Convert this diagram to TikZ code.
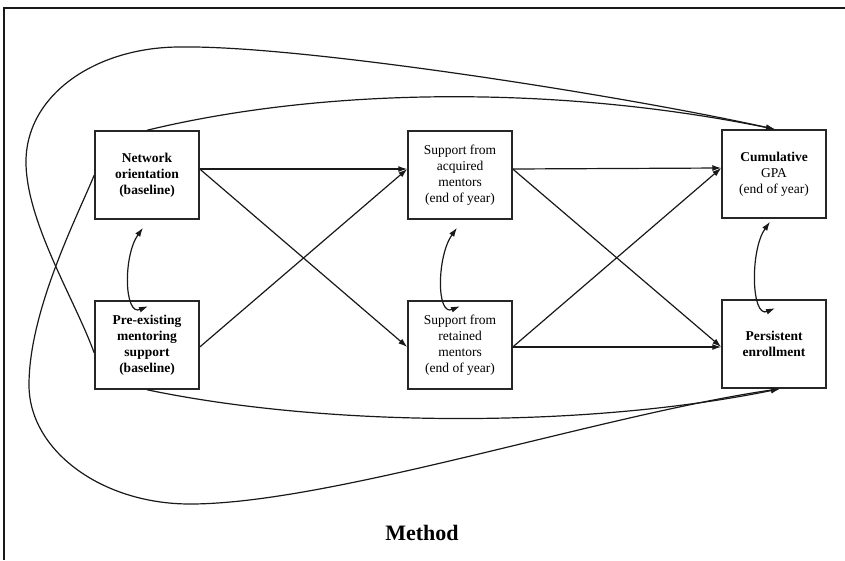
\documentclass[tikz,border=0pt]{standalone}
\usepackage{fontspec}
\setmainfont{Liberation Serif}
\usetikzlibrary{arrows.meta,calc}
\begin{document}
\begin{tikzpicture}[x=1pt,y=1pt,
  box/.style={draw=black!85, line width=1.5pt, minimum width=104pt, minimum height=88pt,
    inner sep=0pt, align=center, font=\fontsize{13.5}{16}\selectfont},
  conn/.style={draw=black!90, line width=1.2pt, -{Latex[length=9pt,width=6pt]}},
  dbl/.style={draw=black!90, line width=1.2pt, {Latex[length=9pt,width=6pt]}-{Latex[length=9pt,width=6pt]}}]
\useasboundingbox (0,0) rectangle (845,-560);
\draw[line width=2.6pt, black!90] (845,-8) -- (4,-8) -- (4,-560);

\node[box] (NO)  at (147,-175) {\textbf{Network}\\\textbf{orientation}\\\textbf{(baseline)}};
\node[box] (PE)  at (147,-345) {\textbf{Pre-existing}\\\textbf{mentoring}\\\textbf{support}\\\textbf{(baseline)}};
\node[box] (SA)  at (460,-175) {\raisebox{5pt}{\begin{tabular}{@{}c@{}}Support from\\acquired\\mentors\\(end of year)\end{tabular}}};
\node[box] (SR)  at (460,-345) {\raisebox{3pt}{\begin{tabular}{@{}c@{}}Support from\\retained\\mentors\\(end of year)\end{tabular}}};
\node[box] (GPA) at (774,-174) {\textbf{Cumulative}\\GPA\\(end of year)};
\node[box] (PER) at (774,-344) {\textbf{Persistent}\\\textbf{enrollment}};

% straight paths
\draw[conn] ([yshift=6pt]NO.east) -- ([yshift=6pt]SA.west);
\draw[conn] ([yshift=6pt]NO.east) -- ([yshift=-2pt]SR.west);
\draw[conn] ([yshift=-2pt]PE.east) -- ([yshift=6pt]SA.west);
\draw[conn] ([yshift=6pt]SA.east) -- ([yshift=6pt]GPA.west);
\draw[conn] ([yshift=6pt]SA.east) -- ([yshift=-3pt]PER.west);
\draw[conn] ([yshift=-2pt]SR.east) -- ([yshift=6pt]GPA.west);
\draw[conn] ([yshift=-2pt]SR.east) -- ([yshift=-3pt]PER.west);

% correlations
\draw[dbl] ($(NO.south)+(-4,-8)$) .. controls +(-20,-28) and +(-24,-10) .. ($(PE.north)+(1,-6)$);
\draw[dbl] ($(SA.south)+(-3,-8)$) .. controls +(-20,-28) and +(-24,-10) .. ($(SR.north)+(0,-6)$);
\draw[dbl] ($(GPA.south)+(-4,-3)$) .. controls +(-20,-28) and +(-24,-10) .. ($(PER.north)+(1,-9)$);

% long curves to GPA
\draw[conn] (NO.north) .. controls (330,-86) and (563,-86) .. ([xshift=1pt]GPA.north);
\draw[conn] ([yshift=-8pt]PE.west) .. controls (75,-300) and (28,-225) .. (26,-165)
   .. controls (24,-95) and (96,-47) .. (180,-47)
   .. controls (300,-45) and (620,-95) .. ([xshift=1pt]GPA.north);

% long curves to PER
\draw[conn] (PE.south) .. controls (330,-428) and (588,-428) .. ([xshift=6pt]PER.south);
\draw[conn] (NO.west) .. controls (78,-215) and (29,-310) .. (29,-385)
   .. controls (29,-450) and (101,-504) .. (190,-504)
   .. controls (330,-504) and (600,-415) .. ([xshift=6pt]PER.south);

\node[font=\fontsize{22}{26}\selectfont\bfseries] (method) at (422,-533) {Method};
\end{tikzpicture}
\end{document}
